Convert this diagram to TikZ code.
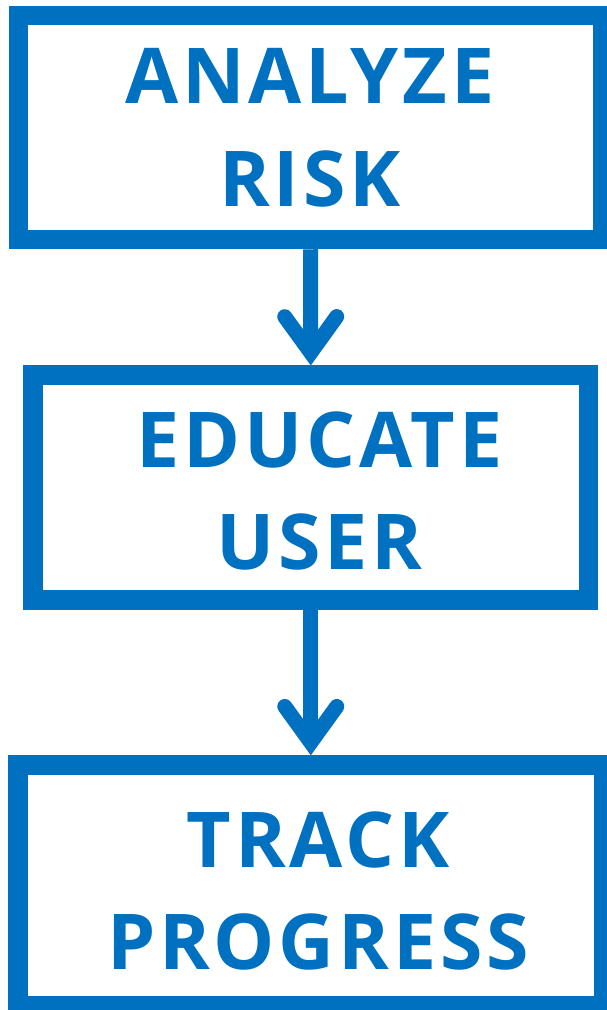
\documentclass[tikz,border=0pt]{standalone}
\usepackage{fontspec}
\setmainfont{Open Sans}
\newfontfamily\stepfont[LetterSpace=5]{Open Sans}
\usepackage{xcolor}
\usepackage{tikz}
\usetikzlibrary{arrows.meta}
\definecolor{stepblue}{HTML}{0070C0}

\begin{document}
\begin{tikzpicture}[x=1pt,y=-1pt,
		stepbox/.style={draw=stepblue, line width=19.5pt, inner sep=0pt},
		word/.style={text=stepblue, align=center, inner sep=0pt,
			font=\stepfont\fontsize{77}{102.7}\selectfont\bfseries},
		flow/.style={draw=stepblue, line width=15pt,
			-{Straight Barb[length=36pt, width=52pt, line cap=round, line join=miter]}}]
				\useasboundingbox (0,0) rectangle (606,1010);
				
				% boxes
				\node[stepbox, minimum width=584.7pt, minimum height=224pt] (analyze) at (310.6,127.5){};
				\node[stepbox, minimum width=555.3pt, minimum height=224.8pt] (educate) at (310.8,487.6){};
				\node[stepbox, minimum width=585.3pt, minimum height=240.7pt] (track) at (310.8,885.4){};
				
				% texts
				\node[word] (analyzetext) at (310,128){ANALYZE\\RISK};
				\node[word] (educatetext) at (319.5,491){EDUCATE\\USER};
				\node[word] (tracktext) at (318,891){TRACK\\PROGRESS};
				
				\foreach \x/\y in
				{analyze/educate, educate/track}{
					\draw[flow] (\x.south) -- (\y.north);
				}
			\end{tikzpicture}
\end{document}
